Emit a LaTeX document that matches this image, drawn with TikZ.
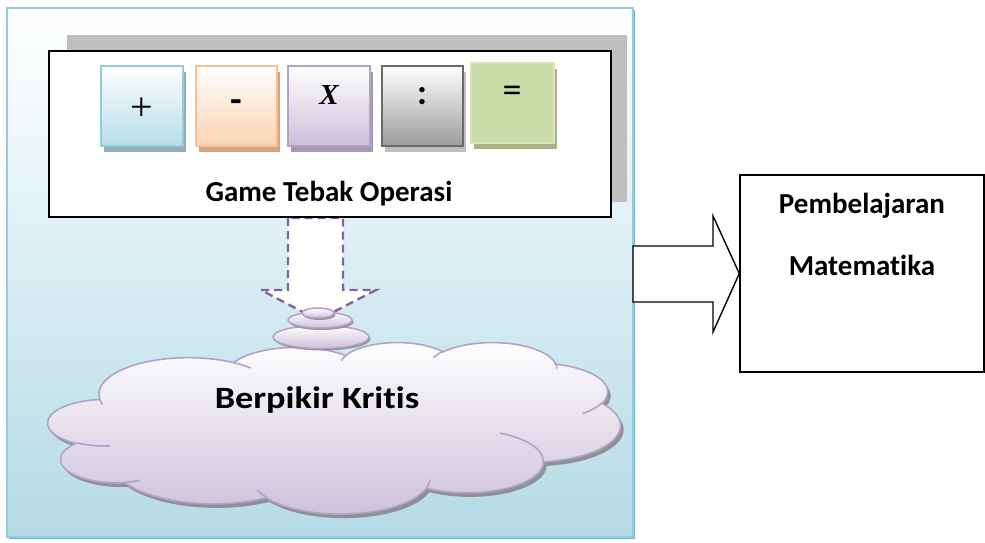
\documentclass[tikz,border=0pt]{standalone}
\usepackage{fontspec}
\setmainfont{Carlito}[Ligatures=NoCommon]
\newfontfamily\symserif{Liberation Serif}
\newfontfamily\widesans{Carlito}[Ligatures=NoCommon, FakeStretch=1.17]
\usetikzlibrary{shapes.geometric,shadows}

\definecolor{frameline}{HTML}{93CDDD}
\definecolor{framebottom}{HTML}{B4DBE6}
\definecolor{frameshade}{HTML}{7FAFBF}
\definecolor{backgray}{HTML}{BFBFBF}
\definecolor{blueline}{HTML}{92CDDC}
\definecolor{bluefill}{HTML}{B7DDE8}
\definecolor{blueshade}{HTML}{93AEB7}
\definecolor{orangeline}{HTML}{FAC090}
\definecolor{orangefill}{HTML}{FAD3B2}
\definecolor{orangeshade}{HTML}{D1A582}
\definecolor{purpleline}{HTML}{B3A2C7}
\definecolor{purplefill}{HTML}{CCC0DA}
\definecolor{purpleshade}{HTML}{A599AE}
\definecolor{grayline}{HTML}{6A6A6A}
\definecolor{grayfill}{HTML}{9C9C9C}
\definecolor{grayshade}{HTML}{BFBFBF}
\definecolor{greenline}{HTML}{D7E4BD}
\definecolor{greendark}{HTML}{CADCA8}
\definecolor{greenlight}{HTML}{F0F5E7}
\definecolor{greenshade}{HTML}{A8B38C}
\definecolor{dashpurple}{HTML}{8064A2}

% Parametric start angle and sweep of an elliptical arc whose
% angles are given as visual angles (name, x radius, y radius, start, sweep)
\newcommand\cloudarc[5]{%
  \pgfmathsetmacro\arcS{atan2((#2)*sin(#4),(#3)*cos(#4))}%
  \pgfmathsetmacro\arcE{atan2((#2)*sin((#4)+(#5)),(#3)*cos((#4)+(#5)))}%
  \pgfmathsetmacro\arcD{\arcE-\arcS}%
  \pgfmathsetmacro\arcD{\arcD+360*((#5)>0)*(\arcD<0)-360*((#5)<0)*(\arcD>0)}%
  \expandafter\xdef\csname cloudS#1\endcsname{\arcS}%
  \expandafter\xdef\csname cloudD#1\endcsname{\arcD}%
}
% outline puffs
\cloudarc{A}{67.53}{91.90}{-190.4875}{123.7805}
\cloudarc{B}{53.33}{72.67}{-144.1024}{89.9452}
\cloudarc{C}{43.65}{59.45}{-145.8079}{99.7230}
\cloudarc{D}{48.57}{65.95}{-130.9861}{117.2417}
\cloudarc{E}{53.33}{72.73}{-78.7089}{109.0269}
\cloudarc{F}{67.75}{92.20}{-46.2673}{130.2690}
\cloudarc{G}{57.85}{78.67}{0.6250}{114.0333}
\cloudarc{H}{67.52}{92.15}{22.4516}{115.1726}
\cloudarc{I}{77.20}{105.43}{66.2426}{75.7110}
\cloudarc{J}{43.60}{59.18}{-274.9421}{146.7356}
\cloudarc{K}{43.45}{59.45}{-246.8285}{152.5189}
% inner creases
\cloudarc{a}{43.45}{59.45}{86.7420}{26.4295}
\cloudarc{b}{43.60}{59.18}{73.6105}{11.4475}
\cloudarc{c}{67.52}{92.15}{137.6242}{14.0811}
\cloudarc{d}{67.52}{92.15}{6.4533}{15.9984}
\cloudarc{e}{57.85}{78.67}{-70.2924}{70.9174}
\cloudarc{f}{53.33}{72.73}{30.3180}{27.7515}
\cloudarc{g}{48.57}{65.95}{-13.7443}{14.8589}
\cloudarc{h}{48.57}{65.95}{-149.1815}{18.1954}
\cloudarc{i}{43.65}{59.45}{-163.4943}{17.6864}
\cloudarc{j}{67.53}{91.90}{-66.7070}{12.3194}
\cloudarc{k}{67.53}{91.90}{157.6544}{11.8582}

\tikzset{
  tilebox/.style={draw, line width=1.8pt, minimum width=82pt, minimum height=80pt, inner sep=0pt},
  bubble/.style={draw=purpleline, line width=1.5pt, top color=white, bottom color=purplefill,
    drop shadow={shadow xshift=1.5pt, shadow yshift=-2pt, fill=gray, opacity=0.8}},
  bigtext/.style={font=\bfseries, anchor=base, inner sep=0pt},
  puff/.style={draw=purpleline, line width=1.6pt},
}

\begin{document}
\begin{tikzpicture}[x=1pt,y=-1pt]
\useasboundingbox (0,0) rectangle (985,542);

% outer frame with gradient
\fill[frameshade] (9,10) rectangle (635,539);
\draw[frameline, line width=1.5pt, top color=white, bottom color=framebottom]
  (7,8) rectangle (633,537);

% grey backing panel
\fill[backgray] (67,35) rectangle (627,202);

% dashed down arrow
\draw[dashpurple, line width=2.4pt, dash pattern=on 8pt off 5pt, fill=white]
  (288,218) -- (288,290) -- (261,290) -- (318,320) -- (376,290) -- (343,290) -- (343,218) -- cycle;

% white card
\node[draw=black, line width=1.5pt, fill=white, minimum width=562pt, minimum height=166pt, inner sep=0pt]
  (card) at (330,134) {};

% operation tiles
\node[tilebox, draw=blueline, top color=white, bottom color=bluefill,
  drop shadow={shadow xshift=3pt, shadow yshift=-6pt, fill=blueshade, opacity=1}]
  (plus) at (142,106) {};
\node[tilebox, draw=orangeline, top color=white, bottom color=orangefill, minimum width=81pt,
  drop shadow={shadow xshift=3pt, shadow yshift=-6pt, fill=orangeshade, opacity=1}]
  (minus) at (236.5,106) {};
\node[tilebox, draw=purpleline, top color=white, bottom color=purplefill,
  drop shadow={shadow xshift=3pt, shadow yshift=-6pt, fill=purpleshade, opacity=1}]
  (times) at (329,106) {};
\node[tilebox, draw=grayline, top color=white, bottom color=grayfill, minimum width=81pt,
  drop shadow={shadow xshift=3pt, shadow yshift=-6pt, fill=grayshade, opacity=1}]
  (divide) at (422.5,106) {};
\node[tilebox, draw=greenline, shading=axis, left color=greendark, middle color=greenlight,
  right color=greendark, shading angle=45, minimum width=83pt,
  drop shadow={shadow xshift=3pt, shadow yshift=-6pt, fill=greenshade, opacity=1}]
  (equals) at (512.5,103) {};

\node[font=\fontsize{40}{40}\selectfont\symserif, inner sep=0pt] (plussym) at (142,109) {+};
\node[font=\fontsize{38}{38}\selectfont\bfseries, inner sep=0pt] (minussym) at (236,106) {-};
\node[font=\fontsize{29}{29}\selectfont\symserif\bfseries\itshape, inner sep=0pt] (timessym) at (329,95) {X};
\node[font=\fontsize{36}{36}\selectfont\bfseries, inner sep=0pt] (dividesym) at (422,96) {:};
\node[font=\fontsize{38}{38}\selectfont, inner sep=0pt] (equalssym) at (512,94) {=};

\node[bigtext, font=\fontsize{29}{29}\selectfont\bfseries] (game) at (329,201) {Game Tebak Operasi};

% thought cloud
\begin{scope}[shift={(48,342)}, xscale=1.325, yscale=0.397]
  \draw[puff, top color=white, bottom color=purplefill,
    drop shadow={shadow xshift=3pt, shadow yshift=-4pt, fill=gray, opacity=0.8}]
    (39.00,143.70)
    arc[start angle=\cloudSA, delta angle=\cloudDA, x radius=67.53, y radius=91.90]
    arc[start angle=\cloudSB, delta angle=\cloudDB, x radius=53.33, y radius=72.67]
    arc[start angle=\cloudSC, delta angle=\cloudDC, x radius=43.65, y radius=59.45]
    arc[start angle=\cloudSD, delta angle=\cloudDD, x radius=48.57, y radius=65.95]
    arc[start angle=\cloudSE, delta angle=\cloudDE, x radius=53.33, y radius=72.73]
    arc[start angle=\cloudSF, delta angle=\cloudDF, x radius=67.75, y radius=92.20]
    arc[start angle=\cloudSG, delta angle=\cloudDG, x radius=57.85, y radius=78.67]
    arc[start angle=\cloudSH, delta angle=\cloudDH, x radius=67.52, y radius=92.15]
    arc[start angle=\cloudSI, delta angle=\cloudDI, x radius=77.20, y radius=105.43]
    arc[start angle=\cloudSJ, delta angle=\cloudDJ, x radius=43.60, y radius=59.18]
    arc[start angle=\cloudSK, delta angle=\cloudDK, x radius=43.45, y radius=59.45]
    -- cycle;
  \draw[puff]
    (46.93,261.77) arc[start angle=\cloudSa, delta angle=\cloudDa, x radius=43.45, y radius=59.45]
    (69.28,348.99) arc[start angle=\cloudSb, delta angle=\cloudDb, x radius=43.60, y radius=59.18]
    (164.78,390.90) arc[start angle=\cloudSc, delta angle=\cloudDc, x radius=67.52, y radius=92.15]
    (288.27,347.51) arc[start angle=\cloudSd, delta angle=\cloudDd, x radius=67.52, y radius=92.15]
    (341.29,229.54) arc[start angle=\cloudSe, delta angle=\cloudDe, x radius=57.85, y radius=78.67]
    (417.98,153.54) arc[start angle=\cloudSf, delta angle=\cloudDf, x radius=53.33, y radius=72.73]
    (383.24,54.26) arc[start angle=\cloudSg, delta angle=\cloudDg, x radius=48.57, y radius=65.95]
    (290.78,39.52) arc[start angle=\cloudSh, delta angle=\cloudDh, x radius=48.57, y radius=65.95]
    (221.41,47.20) arc[start angle=\cloudSi, delta angle=\cloudDi, x radius=43.65, y radius=59.45]
    (140.00,51.92) arc[start angle=\cloudSj, delta angle=\cloudDj, x radius=67.53, y radius=91.90]
    (41.27,157.89) arc[start angle=\cloudSk, delta angle=\cloudDk, x radius=67.53, y radius=91.90];
\end{scope}
\node[bigtext, font=\fontsize{31}{31}\selectfont\widesans\bfseries] (think) at (317,408) {Berpikir Kritis};

% small bubbles leading to the cloud
\node[bubble, ellipse, minimum width=96pt, minimum height=23pt, inner sep=0pt] (bub3) at (321,337) {};
\node[bubble, ellipse, minimum width=64pt, minimum height=16pt, inner sep=0pt] (bub2) at (320,320) {};
\node[bubble, ellipse, minimum width=32pt, minimum height=10pt, inner sep=0pt] (bub1) at (318,313) {};

% block arrow to the right box
\node[draw=black, line width=1.4pt, minimum width=244pt, minimum height=197pt, inner sep=0pt]
  (target) at (862,273.5) {};
\coordinate (arrowstart) at (633,274);
\draw[black, line width=1.4pt, fill=white]
  (arrowstart |- 0,246) -- (713,246) -- (713,216) -- (target.west) -- (713,332) -- (713,302)
  -- (arrowstart |- 0,302) -- cycle;
\node[bigtext, font=\fontsize{29}{29}\selectfont\bfseries] (learn1) at (862,213) {Pembelajaran};
\node[bigtext, font=\fontsize{29}{29}\selectfont\bfseries] (learn2) at (862,275) {Matematika};
\end{tikzpicture}
\end{document}
